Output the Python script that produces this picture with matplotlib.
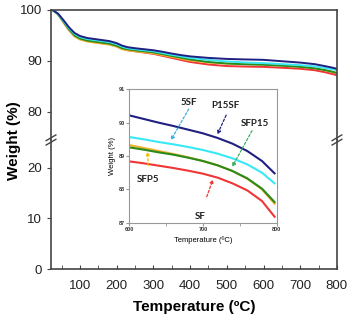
import numpy as np
import matplotlib
matplotlib.use('Agg')
import matplotlib.pyplot as plt

plt.rcParams['font.family'] = ['Liberation Sans', 'DejaVu Sans']

# TGA curves (main plot)
temp = [25, 40, 55, 70, 85, 100, 120, 140, 160, 180, 200, 215, 230, 250, 275,
        300, 325, 350, 375, 400, 450, 500, 550, 600, 650, 700, 740, 770, 790, 800]
p15sf = [100, 99.3, 98.0, 96.6, 95.5, 94.9, 94.5, 94.3, 94.1, 93.9, 93.5, 93.0,
         92.7, 92.5, 92.3, 92.1, 91.8, 91.45, 91.15, 90.9, 90.6, 90.4, 90.3,
         90.22, 89.95, 89.68, 89.37, 88.95, 88.65, 88.45]
sf5 = [100, 99.2, 97.8, 96.4, 95.3, 94.7, 94.3, 94.1, 93.9, 93.7, 93.3, 92.8,
       92.5, 92.3, 92.1, 91.9, 91.55, 91.2, 90.9, 90.6, 90.2, 89.9, 89.7,
       89.57, 89.38, 89.18, 88.93, 88.6, 88.35, 88.18]
sfp15 = [100, 99.2, 97.7, 96.2, 95.0, 94.4, 94.0, 93.8, 93.6, 93.4, 93.0, 92.5,
         92.3, 92.1, 91.9, 91.7, 91.35, 91.0, 90.65, 90.3, 89.8, 89.5, 89.35,
         89.26, 89.07, 88.85, 88.55, 88.17, 87.85, 87.62]
sfp5 = [100, 99.1, 97.5, 96.0, 94.8, 94.2, 93.8, 93.6, 93.4, 93.2, 92.8, 92.3,
        92.1, 91.9, 91.7, 91.5, 91.15, 90.8, 90.45, 90.1, 89.7, 89.5, 89.4,
        89.33, 89.1, 88.85, 88.55, 88.15, 87.82, 87.57]
sf = [100, 99.2, 97.7, 96.2, 95.0, 94.4, 94.0, 93.7, 93.5, 93.3, 92.9, 92.4,
      92.1, 91.9, 91.65, 91.4, 91.0, 90.6, 90.2, 89.8, 89.3, 89.0, 88.9,
      88.84, 88.67, 88.47, 88.18, 87.75, 87.4, 87.18]

# zoomed region 600-800 C (inset)
temp_in = [600, 620, 640, 660, 680, 700, 720, 740, 760, 780, 797]
p15sf_in = [90.22, 90.11, 90.0, 89.9, 89.79, 89.68, 89.54, 89.37, 89.15, 88.85, 88.48]
sf5_in = [89.57, 89.5, 89.42, 89.35, 89.27, 89.18, 89.07, 88.93, 88.75, 88.5, 88.18]
sfp15_in = [89.26, 89.19, 89.11, 89.04, 88.95, 88.85, 88.72, 88.55, 88.33, 88.02, 87.62]
sfp5_in = [89.33, 89.24, 89.15, 89.06, 88.96, 88.85, 88.72, 88.55, 88.32, 88.0, 87.57]
sf_in = [88.84, 88.78, 88.71, 88.64, 88.56, 88.47, 88.35, 88.18, 87.97, 87.65, 87.18]

colors = {'SF': '#f03535', 'SFP5': '#f0b030', 'SFP15': '#2a8a1a',
          '5SF': '#38e8f5', 'P15SF': '#202080'}
series = [('SF', sf, sf_in), ('SFP5', sfp5, sfp5_in), ('SFP15', sfp15, sfp15_in),
          ('5SF', sf5, sf5_in), ('P15SF', p15sf, p15sf_in)]

fig = plt.figure(figsize=(3.47, 3.15), dpi=100)
ax_top = fig.add_axes([0.147, 0.5556, 0.824, 0.4127])
ax_bot = fig.add_axes([0.147, 0.146, 0.824, 0.4096])

for name, main, _ in series:
    ax_top.plot(temp, main, color=colors[name], lw=1.4)
    ax_bot.plot(temp, main, color=colors[name], lw=1.4)

for ax in (ax_top, ax_bot):
    ax.set_xlim(21, 800)
    for s in ax.spines.values():
        s.set_color('#444444')
        s.set_linewidth(1.2)
    ax.tick_params(axis='y', direction='out', length=3, labelsize=9.5,
                   colors='#444444', labelcolor='#222222')

ax_top.set_ylim(74.5, 100)
ax_top.set_yticks([80, 90, 100])
ax_top.spines['bottom'].set_visible(False)
ax_top.tick_params(axis='x', bottom=False, labelbottom=False)

ax_bot.set_ylim(0, 25.5)
ax_bot.set_yticks([0, 10, 20])
ax_bot.spines['top'].set_visible(False)
ax_bot.set_xticks(range(100, 801, 100))
ax_bot.set_xticks(range(50, 801, 50), minor=True)
ax_bot.tick_params(axis='x', which='both', direction='in', length=3,
                   labelsize=9.5, colors='#444444', labelcolor='#222222', pad=8)

ax_bot.set_xlabel('Temperature (ºC)', fontsize=11, fontweight='bold', labelpad=6)
fig.text(0.04, 0.555, 'Weight (%)', rotation=90, fontsize=11, fontweight='bold',
         ha='center', va='center')

# break marks
for xf in (0.147, 0.971):
    for dy in (-0.007, 0.007):
        fig.add_artist(plt.Line2D([xf - 0.014, xf + 0.014],
                                  [0.5556 + dy - 0.009, 0.5556 + dy + 0.009],
                                  color='#444444', lw=1.0))

# inset
ins = fig.add_axes([0.372, 0.293, 0.4256, 0.4235])
for name, _, zoom_vals in series:
    ins.plot(temp_in, zoom_vals, color=colors[name], lw=1.5)
ins.set_xlim(600, 800)
ins.set_ylim(87, 91)
ins.set_xticks([600, 700, 800])
ins.set_xticks([650, 750], minor=True)
ins.set_yticks([87, 88, 89, 90, 91])
for s in ins.spines.values():
    s.set_color('#999999')
    s.set_linewidth(0.8)
ins.tick_params(which='both', direction='out', length=2, labelsize=4, pad=1,
                colors='#999999', labelcolor='#333333')
for lab in ins.get_xticklabels() + ins.get_yticklabels():
    lab.set_fontweight('bold')
ins.set_xlabel('Temperature (ºC)', fontsize=5.5, labelpad=3)
ins.set_ylabel('Weight (%)', fontsize=5.5, labelpad=2)

ann = [('5SF', (681, 90.6), (682.6, 90.48), (654.6, 89.4), '#3aaee6'),
       ('P15SF', (730, 90.5), (733, 90.3), (718, 89.57), '#202080'),
       ('SFP15', (770.6, 89.96), (768.3, 89.83), (737.7, 88.6), '#3cb060'),
       ('SFP5', (626, 88.3), (626, 88.63), (625, 89.22), '#f5c000'),
       ('SF', (696, 87.2), (703.9, 87.7), (715, 88.38), '#f03535')]
for text, tpos, tail, head, col in ann:
    ins.text(tpos[0], tpos[1], text, fontsize=7, fontweight='bold',
             color='#222222', ha='center', va='center',
             family=['Lato', 'DejaVu Sans'])
    ins.annotate('', xy=head, xytext=tail,
                 arrowprops=dict(arrowstyle='-|>', color=col, lw=0.9,
                                 linestyle=(0, (2, 1.5)), mutation_scale=5))

fig.savefig('out.png', dpi=100)
